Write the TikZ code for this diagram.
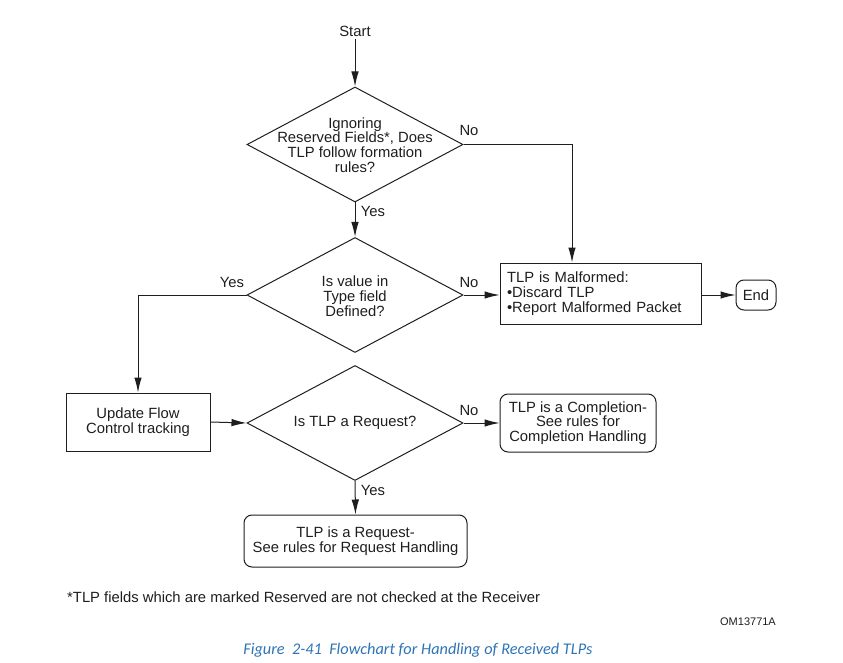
\documentclass[tikz,border=0pt]{standalone}
\usepackage{fontspec}
\setmainfont{Liberation Sans}
\newfontfamily\capfont{Carlito}
\usetikzlibrary{shapes.geometric,arrows.meta}
\definecolor{capblue}{RGB}{46,116,181}
\definecolor{ink}{RGB}{30,30,30}
\begin{document}
\begin{tikzpicture}[x=1pt,y=-1pt,
  every node/.style={text=ink,font=\fontsize{14.8}{14.8}\selectfont},
  dia/.style={draw=ink,line width=1pt,diamond,minimum width=216pt,minimum height=115pt,inner sep=0pt},
  sqbox/.style={draw=ink,line width=1pt,rectangle,inner sep=0pt,align=center},
  rbox/.style={draw=ink,line width=1pt,rectangle,rounded corners=8pt,inner sep=0pt,align=center},
  txt/.style={align=center,inner sep=0pt},
  lbl/.style={inner sep=0pt},
  flow/.style={draw=ink,line width=1pt,-{Latex[length=15pt,width=7.5pt]}},
  plain/.style={draw=ink,line width=1pt}]
\useasboundingbox (0,0) rectangle (843,663);

\node[lbl] (start) at (355,31) {Start};
\node[dia] (d1) at (355,144.5) {};
\node[txt] at (355,145) {Ignoring\\Reserved Fields*, Does\\TLP follow formation\\rules?};
\node[dia] (d2) at (355,295) {};
\node[txt] at (355,296) {Is value in\\Type field\\Defined?};
\node[dia] (d3) at (355,423) {};
\node[txt] at (355,423) {Is TLP a Request?};

\node[sqbox,minimum width=201pt,minimum height=61pt,align=left,text width=187pt] (mal) at (600.5,293.5)
  {TLP is Malformed:\\\textbullet Discard TLP\\\textbullet Report Malformed Packet};
\node[rbox,minimum width=40pt,minimum height=30pt] (end) at (756,295) {End};
\node[sqbox,minimum width=144pt,minimum height=58pt] (upd) at (138,422) {Update Flow\\Control tracking};
\node[rbox,minimum width=156pt,minimum height=58pt] (cmp) at (578,423) {TLP is a Completion-\\See rules for\\Completion Handling};
\node[rbox,minimum width=223pt,minimum height=52pt] (req) at (355.5,541) {TLP is a Request-\\See rules for Request Handling};

\coordinate (c1) at (572,144.5);
\coordinate (c2) at (138,295);

\draw[flow] (start.south) ++(0,3) -- (d1.north);
\draw[flow] (d1.east) -- (c1) -- (mal.north -| c1);
\draw[flow] (d1.south) -- (d2.north);
\draw[flow] (d2.east) -- (mal.west |- d2.east);
\draw[flow] (d2.west) -- (c2) -- (upd.north);
\draw[flow] (mal.east |- end.west) -- (end.west);
\draw[flow] (upd.east) -- (d3.west);
\draw[flow] (d3.east) -- (cmp.west);
\draw[flow] (d3.south) -- (req.north);

\node[lbl] at (469,130) {No};
\node[lbl] at (373,211) {Yes};
\node[lbl] at (469,282) {No};
\node[lbl] at (232,282) {Yes};
\node[lbl] at (469,410) {No};
\node[lbl] at (373,490) {Yes};

\node[lbl,anchor=west] (fn) at (67,597) {*TLP fields which are marked Reserved are not checked at the Receiver};
\node[lbl,font=\fontsize{11}{13}\selectfont] (om) at (748,622) {OM13771A};
\node[lbl,text=capblue,font=\capfont\itshape\fontsize{16.3}{18}\selectfont] (cap) at (418,650) {Figure\ \ 2-41\ \ Flowchart for Handling of Received TLPs};
\end{tikzpicture}
\end{document}
